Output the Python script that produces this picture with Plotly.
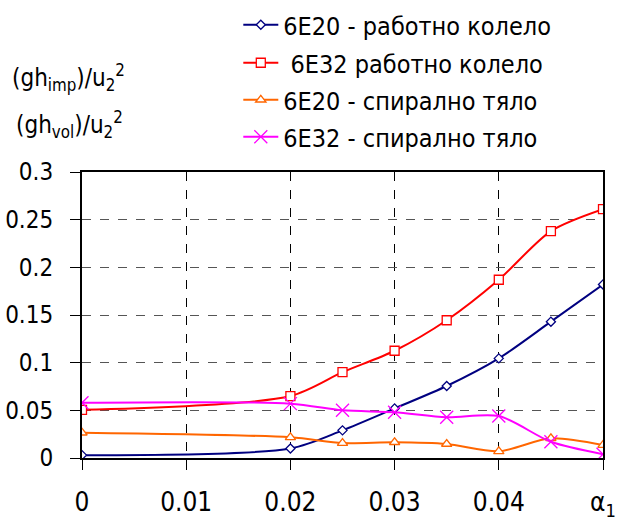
import plotly.graph_objects as go

x = [0, 0.02, 0.025, 0.03, 0.035, 0.04, 0.045, 0.05]
imp_6e20 = [0.003, 0.010, 0.029, 0.052, 0.0755, 0.1045, 0.143, 0.182]
imp_6e32 = [0.0505, 0.065, 0.090, 0.1125, 0.1445, 0.187, 0.238, 0.261]
vol_6e20 = [0.0265, 0.0217, 0.0157, 0.0165, 0.0147, 0.007, 0.0207, 0.0136]
vol_6e32 = [0.058, 0.057, 0.050, 0.048, 0.0427, 0.044, 0.017, 0.004]

names = ["6E20 - работно колело", " 6E32 работно колело",
         "6E20 - спирално тяло", "6E32 - спирално тяло"]
xtick_vals = [0, 0.01, 0.02, 0.03, 0.04, 0.05]
xtick_text = ["0", "0.01", "0.02", "0.03", "0.04", "α<sub>1</sub>"]
ytick_vals = [0, 0.05, 0.1, 0.15, 0.2, 0.25, 0.3]
ytick_text = ["0", "0.05", "0.1", "0.15", "0.2", "0.25", "0.3"]

FONT = "DejaVu Sans Condensed, Liberation Sans Narrow, Arial Narrow, Liberation Sans, Arial, sans-serif"

L, R, T, B = 82, 26, 172, 62
PH = 520 - T - B

fig = go.Figure()
styles = [
    (imp_6e20, "#000080", "diamond", 7, "white"),
    (imp_6e32, "#FF0000", "square", 9, "white"),
    (vol_6e20, "#FF6600", "triangle-up", 9, "white"),
    (vol_6e32, "#FF00FF", "x-thin", 13, "#FF00FF"),
]
legend_ids = ["legend", "legend2", "legend3", "legend4"]
legend_ypx = [25, 63, 100, 137]
for (y, c, sym, sz, fill), nm, lid in zip(styles, names, legend_ids):
    fig.add_trace(go.Scatter(
        x=x, y=y, name=nm, mode="lines+markers", legend=lid,
        line=dict(color=c, width=2, shape="spline", smoothing=0.8),
        marker=dict(symbol=sym, size=sz, color=fill,
                    line=dict(color=c, width=1.3)),
    ))

layout_legends = {}
for lid, ypx in zip(legend_ids, legend_ypx):
    layout_legends[lid] = dict(
        x=0.30, y=(520 - B - ypx) / PH, xanchor="left", yanchor="middle",
        bgcolor="rgba(0,0,0,0)", itemwidth=35,
        font=dict(family=FONT, size=25, color="black"))

fig.update_layout(
    width=629, height=520,
    margin=dict(l=L, r=R, t=T, b=B, autoexpand=False),
    paper_bgcolor="white", plot_bgcolor="white",
    font=dict(family=FONT, size=25, color="black"),
    showlegend=True,
    **layout_legends,
)
fig.update_xaxes(
    range=[0, 0.05], tickvals=xtick_vals, ticktext=xtick_text,
    showgrid=True, gridcolor="black", griddash="dash", gridwidth=1,
    showline=True, linecolor="black", linewidth=2, mirror=True,
    ticks="outside", ticklen=10, tickcolor="black",
    ticklabelstandoff=10, zeroline=False, automargin=False,
    tickfont=dict(family=FONT, size=26),
)
fig.update_yaxes(
    range=[0, 0.3], tickvals=ytick_vals, ticktext=ytick_text,
    showgrid=True, gridcolor="#555555", griddash="dash", gridwidth=1,
    showline=True, linecolor="black", linewidth=2, mirror=True,
    ticks="outside", ticklen=10, tickcolor="black",
    ticklabelstandoff=12, zeroline=False, automargin=False,
    tickfont=dict(family=FONT, size=24),
)
fig.add_annotation(xref="paper", yref="paper", x=(10 - L) / 521, y=(520 - B - 78) / PH,
                   text="(gh<sub>imp</sub>)/u<sub>2</sub><sup>2</sup>",
                   showarrow=False, xanchor="left", yanchor="middle",
                   font=dict(family=FONT, size=24))
fig.add_annotation(xref="paper", yref="paper", x=(14 - L) / 521, y=(520 - B - 125) / PH,
                   text="(gh<sub>vol</sub>)/u<sub>2</sub><sup>2</sup>",
                   showarrow=False, xanchor="left", yanchor="middle",
                   font=dict(family=FONT, size=24))
fig.write_html("out.html")
